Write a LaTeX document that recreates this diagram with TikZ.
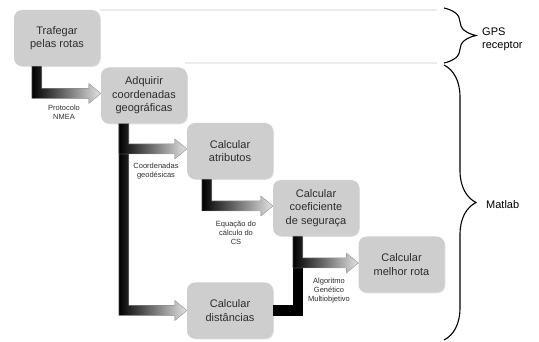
\documentclass[tikz,border=0pt]{standalone}
\usepackage{fontspec}
\setmainfont{Liberation Sans}
\usetikzlibrary{decorations.pathreplacing,calc,shadows}
\definecolor{boxgray}{RGB}{206,206,206}
\definecolor{txtgray}{RGB}{45,45,45}
\definecolor{faint}{RGB}{236,236,236}
\newcommand\bentarrow[2]{%
  \filldraw[arrowfill] let \p1=#1, \p2=#2 in
    (\x1,\y1) -- (\x1+10pt,\y1) -- (\x1+10pt,\y2+5pt) -- (\x2-12pt,\y2+5pt)
    -- (\x2-12pt,\y2+10pt) -- (\x2,\y2) -- (\x2-12pt,\y2-10pt)
    -- (\x2-12pt,\y2-5pt) -- (\x1,\y2-5pt) -- cycle;}
\begin{document}
\begin{tikzpicture}[x=1pt,y=-1pt,
  procbox/.style={rounded corners=8pt, fill=boxgray, minimum width=86pt,
    minimum height=56pt, inner sep=0pt, align=center, text=txtgray,
    font=\fontsize{11}{13.5}\selectfont,
    drop shadow={shadow xshift=0.8pt, shadow yshift=-0.8pt, opacity=0.25}},
  arrowfill/.style={draw=gray!65, line width=0.4pt, left color=black, right color=gray!22},
  lbl/.style={align=center, text=txtgray, inner sep=0pt, font=\fontsize{7.5}{9}\selectfont},
  bracelbl/.style={align=left, anchor=west, inner sep=0pt, text=black, font=\fontsize{11}{13}\selectfont},
  bracestyle/.style={decorate, decoration={brace, amplitude=32pt}, line width=1.1pt}]
\useasboundingbox (0,0) rectangle (539,342);

% faint guide lines
\coordinate (g1e) at (437,10);
\coordinate (g2s) at (185,63);
\coordinate (g2e) at (437,63);

% boxes
\node[procbox] (traf) at (57,38) {Trafegar\\pelas rotas};
\node[procbox] (adq) at (144,95.5) {Adquirir\\coordenadas\\geográficas};
\node[procbox] (atr) at (230,151) {Calcular\\atributos};
\node[procbox] (coef) at (316,208) {Calcular\\coeficiente\\de seguraça};
\node[procbox] (melh) at (401.5,264.5) {Calcular\\melhor rota};
\node[procbox] (dist) at (230,310.5) {Calcular\\distâncias};

\draw[faint, line width=1.5pt] (traf.north east |- g1e) -- (g1e);
\draw[faint, line width=1.5pt] (g2s) -- (g2e);

% bar start points
\coordinate (s1) at ($(traf.south west)+(18,0)$);
\coordinate (s2) at ($(adq.south west)+(18,0)$);
\coordinate (s3) at ($(atr.south west)+(15,0)$);
\coordinate (s4) at ($(coef.south west)+(20,0)$);

% connectors
\bentarrow{(s1)}{($(adq.west)+(0,-2)$)}
\bentarrow{(s2)}{($(dist.west)+(0,0)$)}
\bentarrow{(s2)}{($(atr.west)+(0,-2)$)}
\bentarrow{(s3)}{($(coef.west)+(0,-2)$)}
\fill[black] ($(dist.east)+(0,-5.5)$) rectangle ($(dist.east -| s4)+(10,5.5)$);
\fill[black] ($(dist.east -| s4)+(0,5.5)$) rectangle ($(melh.west -| s4)+(10,0)$);
\bentarrow{(s4)}{($(melh.west)+(0,-1.5)$)}

% connector labels
\node[lbl] (l1) at (64,112) {Protocolo\\NMEA};
\node[lbl] (l2) at (156,171) {Coordenadas\\geodésicas};
\node[lbl] (l3) at (236,233) {Equação do\\cálculo do\\CS};
\node[lbl] (l4) at (329,291) {Algoritmo\\Genético\\Multiobjetivo};

% braces
\coordinate (b1a) at (444,8);
\coordinate (b1b) at (444,63);
\coordinate (b2a) at (444,65);
\coordinate (b2b) at (444,340);
\draw[bracestyle] (b1a) -- (b1b);
\draw[bracestyle] (b2a) -- (b2b);
\node[bracelbl] (gps) at (482,39) {GPS\\receptor};
\node[bracelbl] (mat) at (486,205) {Matlab};
\end{tikzpicture}
\end{document}
